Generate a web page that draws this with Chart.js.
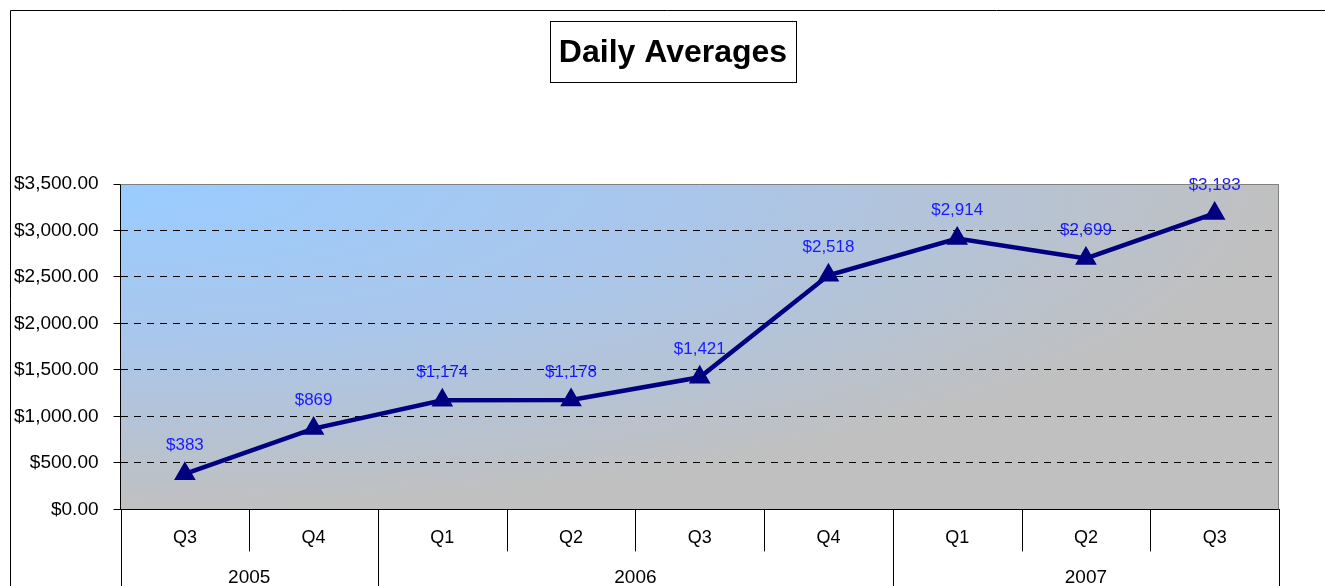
<!DOCTYPE html>
<html>
<head>
<meta charset="utf-8">
<title>Daily Averages</title>
<script src="https://cdn.jsdelivr.net/npm/chart.js@4.4.1/dist/chart.umd.min.js"></script>
<style>
    html, body { margin: 0; padding: 0; background: #fff; overflow: hidden; }
    #wrap { width: 1325px; height: 586px; position: relative; }
</style>
</head>
<body>
<div id="wrap"><canvas id="avg-chart"></canvas></div>
<script>
    // 四半期ラベルと年グループ
    const quarters = ['Q3', 'Q4', 'Q1', 'Q2', 'Q3', 'Q4', 'Q1', 'Q2', 'Q3'];
    const years = ['2005', '2006', '2007'];
    const yearSpans = [2, 4, 3];   // 各年に含まれる四半期の数

    // 日次平均 ($)
    const dailyAverages = [383, 869, 1174, 1178, 1421, 2518, 2914, 2699, 3183];

    const yTicks = [0, 500, 1000, 1500, 2000, 2500, 3000, 3500];

    const TITLE = 'Daily Averages';
    const FONT = '"Liberation Sans", Arial, sans-serif';

    function money2(v) {
        return '$' + v.toLocaleString('en-US', { minimumFractionDigits: 2, maximumFractionDigits: 2 });
    }

    function money0(v) {
        return '$' + v.toLocaleString('en-US');
    }

    // プロット背景（左上から広がるグラデーション）と枠・タイトル
    const plotBackground = {
        id: 'plotBackground',
        beforeDraw(chart) {
            const { ctx, chartArea: a } = chart;
            const w = a.right - a.left, h = a.bottom - a.top;
            ctx.save();
            ctx.beginPath();
            ctx.rect(a.left, a.top, w, h);
            ctx.clip();
            ctx.translate(a.left, a.top);
            ctx.scale(w, h);
            const g = ctx.createRadialGradient(0, 0, 0, 0, 0, 1);
            g.addColorStop(0, '#99CCFF');
            g.addColorStop(0.5, '#AAC6EA');
            g.addColorStop(1, '#C0C0C0');
            ctx.fillStyle = g;
            ctx.fillRect(0, 0, 1.5, 1.5);
            ctx.restore();
        },
        afterDraw(chart) {
            const { ctx, chartArea: a } = chart;
            ctx.save();
            // 外枠
            ctx.strokeStyle = '#000';
            ctx.lineWidth = 1;
            ctx.beginPath();
            ctx.moveTo(10.5, chart.height);
            ctx.lineTo(10.5, 10.5);
            ctx.lineTo(chart.width, 10.5);
            ctx.stroke();

            // プロット枠（上・右はグレー）
            ctx.strokeStyle = '#808080';
            ctx.beginPath();
            ctx.moveTo(a.left, a.top + 0.5);
            ctx.lineTo(a.right - 0.5, a.top + 0.5);
            ctx.lineTo(a.right - 0.5, a.bottom);
            ctx.stroke();

            // タイトル（枠付き）
            ctx.font = 'bold 32px ' + FONT;
            ctx.fillStyle = '#000';
            ctx.textAlign = 'center';
            ctx.textBaseline = 'middle';
            const cx = 673;
            ctx.fillText(TITLE, cx, 53);
            const tw = ctx.measureText(TITLE).width;
            ctx.strokeStyle = '#000';
            ctx.strokeRect(Math.round(cx - tw / 2 - 9) + 0.5, 21.5, Math.round(tw + 18), 61);
            ctx.restore();
        }
    };

    // X軸の区切り線と年ラベル
    const groupAxis = {
        id: 'groupAxis',
        afterDraw(chart) {
            const { ctx, chartArea: a } = chart;
            const x = chart.scales.x;
            const half = (x.getPixelForValue(1) - x.getPixelForValue(0)) / 2;
            ctx.save();
            ctx.strokeStyle = '#000';
            ctx.lineWidth = 1;

            const boundaries = new Set([0]);
            let acc = 0;
            yearSpans.forEach(n => { acc += n; boundaries.add(acc); });

            for (let i = 0; i <= quarters.length; i++) {
                const px = Math.round(x.getPixelForValue(i) - half) + 0.5;
                const yEnd = boundaries.has(i) ? chart.height : a.bottom + 42;
                ctx.beginPath();
                ctx.moveTo(px, a.bottom);
                ctx.lineTo(px, yEnd);
                ctx.stroke();
            }

            ctx.fillStyle = '#000';
            ctx.font = '19px ' + FONT;
            ctx.textAlign = 'center';
            ctx.textBaseline = 'middle';
            let start = 0;
            years.forEach((yr, k) => {
                const end = start + yearSpans[k] - 1;
                const cx = (x.getPixelForValue(start) + x.getPixelForValue(end)) / 2;
                ctx.fillText(yr, cx, a.bottom + 68);
                start += yearSpans[k];
            });
            ctx.restore();
        }
    };

    // データラベル
    const valueLabels = {
        id: 'valueLabels',
        afterDatasetsDraw(chart) {
            const { ctx } = chart;
            const meta = chart.getDatasetMeta(0);
            ctx.save();
            ctx.fillStyle = '#1A1AFF';
            ctx.font = '17px ' + FONT;
            ctx.textAlign = 'center';
            ctx.textBaseline = 'middle';
            meta.data.forEach((pt, i) => {
                ctx.fillText(money0(dailyAverages[i]), pt.x, pt.y - 28);
            });
            ctx.restore();
        }
    };

    new Chart(document.getElementById('avg-chart'), {
        type: 'line',
        data: {
            labels: quarters,
            datasets: [{
                label: 'Daily Average',
                data: dailyAverages,
                borderColor: '#000080',
                backgroundColor: '#000080',
                borderWidth: 4.5,
                pointStyle: 'triangle',
                pointRadius: 8,
                pointHoverRadius: 8,
                tension: 0,
                fill: false,
            }]
        },
        options: {
            responsive: true,
            maintainAspectRatio: false,
            animation: false,
            layout: {
                padding: { left: -1, right: 46, top: 184, bottom: 19 }
            },
            plugins: {
                legend: { display: false },
                tooltip: { enabled: false },
                title: { display: false }
            },
            scales: {
                x: {
                    offset: true,
                    grid: { display: false, drawTicks: false },
                    border: { display: true, color: '#000', width: 1 },
                    ticks: {
                        color: '#000',
                        padding: 18,
                        maxRotation: 0,
                        font: { family: FONT, size: 18 }
                    }
                },
                y: {
                    min: 0,
                    max: 3500,
                    afterBuildTicks(axis) {
                        axis.ticks = yTicks.map(v => ({ value: v }));
                    },
                    border: { display: true, color: '#000', width: 1, dash: [7, 6] },
                    grid: {
                        color: ctx => (ctx.tick && (ctx.tick.value === 0 || ctx.tick.value === 3500)) ? 'rgba(0,0,0,0)' : '#000',
                        tickColor: '#000',
                        tickBorderDash: [],
                        tickLength: 7,
                        lineWidth: 1
                    },
                    ticks: {
                        color: '#000',
                        padding: 15,
                        font: { family: FONT, size: 19 },
                        callback: v => money2(v)
                    }
                }
            }
        },
        plugins: [plotBackground, groupAxis, valueLabels]
    });
</script>
</body>
</html>
